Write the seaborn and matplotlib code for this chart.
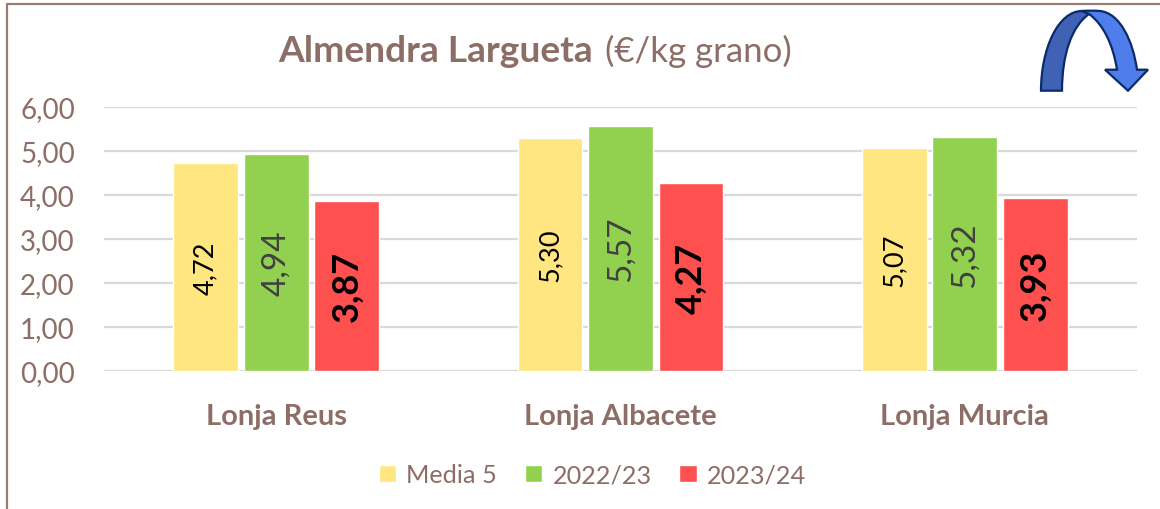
import matplotlib
matplotlib.use("Agg")
import matplotlib.pyplot as plt
import seaborn as sns
import pandas as pd
from matplotlib.patches import PathPatch
from matplotlib.path import Path
from matplotlib.lines import Line2D
from matplotlib.transforms import Affine2D

categories = ["Lonja Reus", "Lonja Albacete", "Lonja Murcia"]
series_names = ["Media 5", "2022/23", "2023/24"]
media5 = [4.72, 5.30, 5.07]
y2022 = [4.94, 5.57, 5.32]
y2023 = [3.87, 4.27, 3.93]
y_ticks = [0, 1, 2, 3, 4, 5, 6]
palette = ["#FFE680", "#92D14F", "#FF5050"]
label_colors = ["#000000", "#404040", "#000000"]
label_sizes = [19.5, 24, 26]
label_weights = ["normal", "normal", "bold"]
TXT = "#8D6E67"
W, H = 1160, 510

sns.set_theme(style="white")
plt.rcParams["font.family"] = ["Lato", "DejaVu Sans"]

df = pd.DataFrame({
    "lonja": categories * 3,
    "serie": [s for s in series_names for _ in categories],
    "valor": media5 + y2022 + y2023,
})

fig = plt.figure(figsize=(W / 100, H / 100), dpi=100, facecolor="white")
ax = fig.add_axes([104 / W, 1 - 372 / H, (1137 - 104) / W, (372 - 108) / H])
sns.barplot(data=df, x="lonja", y="valor", hue="serie", hue_order=series_names,
            palette=palette, saturation=1, width=0.6136, gap=0.08, ax=ax, legend=True, zorder=3)
ax.set_xlim(-0.5, 2.5)
ax.set_ylim(0, 6)
ax.set_xlabel("")
ax.set_ylabel("")
ax.set_yticks(y_ticks)
ax.set_yticklabels([f"{v:.2f}".replace(".", ",") for v in y_ticks], fontsize=20, color=TXT)
ax.tick_params(axis="y", length=0, pad=21)
ax.tick_params(axis="x", length=0, pad=23)
for t in ax.get_xticklabels():
    t.set_fontsize(21)
    t.set_fontweight("bold")
    t.set_color(TXT)
ax.grid(axis="y", color="#D9D9D9", lw=1.6, zorder=0)
ax.set_axisbelow(True)
for s in ax.spines.values():
    s.set_visible(False)

for i, c in enumerate(ax.containers):
    labels = [f"{v:.2f}".replace(".", ",") for v in c.datavalues]
    ax.bar_label(c, labels=labels, label_type="center", rotation=90,
                 fontsize=label_sizes[i], color=label_colors[i],
                 fontweight=label_weights[i])

h, l = ax.get_legend_handles_labels()
leg = ax.legend(h, l, loc="center", bbox_to_anchor=(592.5 / W, 1 - 476 / H),
                bbox_transform=fig.transFigure, ncol=3, frameon=False, fontsize=18.15,
                handlelength=0.68, handleheight=0.68, handletextpad=0.42, columnspacing=1.1,
                labelcolor=TXT, borderpad=0)

# Title
fig.text(278 / W, 1 - 62 / H, "Almendra Largueta", fontsize=26.7, fontweight="bold", color=TXT, ha="left", va="baseline")
fig.text(605 / W, 1 - 62 / H, "(€/kg grano)", fontsize=25, color=TXT, ha="left", va="baseline")

# Frame of the source sheet
fig.add_artist(Line2D([7 / W, 7 / W], [0, 1 - 5 / H], color="#9A7B75", lw=1.6))
fig.add_artist(Line2D([7 / W, 1], [1 - 5 / H, 1 - 5 / H], color="#9A7B75", lw=1.6))

# Curved arrow decoration (pixel coordinates)
px = Affine2D().scale(1, -1).translate(0, H).scale(1 / W, 1 / H) + fig.transFigure
M, L, C, Z = Path.MOVETO, Path.LINETO, Path.CURVE4, Path.CLOSEPOLY
back_v = [(1041, 91.7), (1041, 50), (1058, 12), (1082, 12), (1085, 12), (1087, 13), (1089, 15),
          (1072, 27), (1062, 55), (1062, 91.7), (1041, 91.7)]
back_c = [M, C, C, C, C, C, C, C, C, C, Z]
front_v = [(1082, 12), (1088, 11.5), (1094, 11.5), (1100, 12), (1120, 14), (1133, 42), (1137, 70.7),
           (1148, 70.7), (1128, 91.7), (1105, 70.7), (1117, 70.7),
           (1113, 45), (1103, 25), (1089, 15), (1082, 12)]
front_c = [M, C, C, C, C, C, C, L, L, L, L, C, C, C, Z]
fig.add_artist(PathPatch(Path(back_v, back_c), fc="#3F62B5", ec="#0B2A6B", lw=1.6, transform=px))
fig.add_artist(PathPatch(Path(front_v, front_c), fc="#4F7DEB", ec="#0B2A6B", lw=1.6, transform=px))

fig.savefig("out.png", dpi=100, facecolor="white")
